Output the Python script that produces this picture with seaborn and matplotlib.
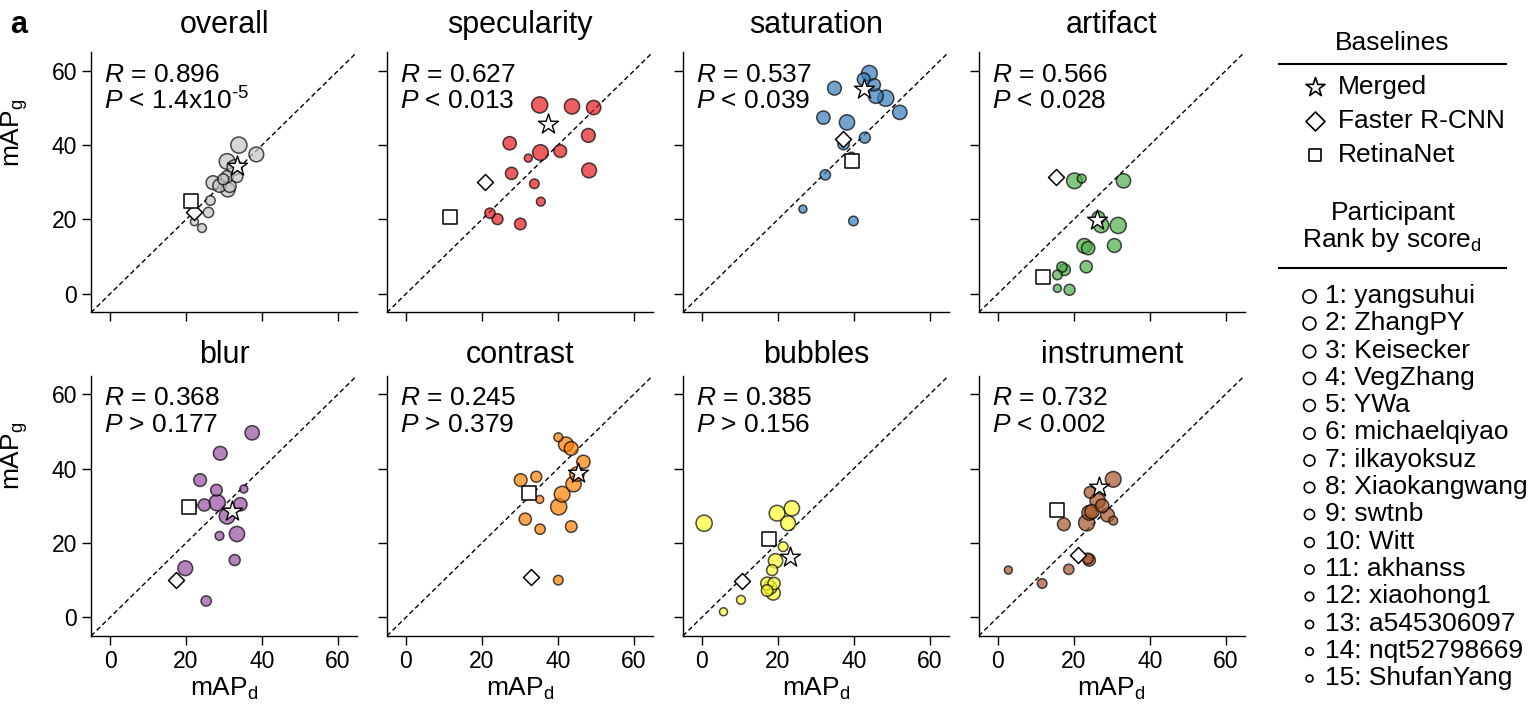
import numpy as np
import pandas as pd
import matplotlib.pyplot as plt
import seaborn as sns

# --- data ---
categories = ['overall', 'specularity', 'saturation', 'artifact',
              'blur', 'contrast', 'bubbles', 'instrument']
colors = ['#c4c4c4', '#e41a1c', '#377eb8', '#4daf4a',
          '#984ea3', '#ff7f00', '#ffff33', '#a65628']
r_values = ['0.896', '0.627', '0.537', '0.566', '0.368', '0.245', '0.385', '0.732']
p_values = ['< 1.4x10$^{\u20105}$', '< 0.013', '< 0.039', '< 0.028',
            '> 0.177', '> 0.379', '> 0.156', '< 0.002']

participants = ['yangsuhui', 'ZhangPY', 'Keisecker', 'VegZhang', 'YWa',
                'michaelqiyao', 'ilkayoksuz', 'Xiaokangwang', 'swtnb', 'Witt',
                'akhanss', 'xiaohong1', 'a545306097', 'nqt52798669', 'ShufanYang']

# participant points, listed by rank 1..15 (mAP_d, mAP_g)
overall_d = [33.9, 30.8, 32.8, 38.5, 31.0, 27.1, 28.8, 31.5, 30.8, 33.4, 29.8, 25.9, 26.4, 24.2, 22.2]
overall_g = [40.0, 35.6, 34.0, 37.5, 28.0, 29.9, 29.1, 29.0, 31.5, 31.5, 30.8, 21.9, 25.1, 17.7, 19.4]
specularity_d = [35.2, 35.4, 43.7, 48.2, 49.4, 48.0, 27.3, 40.6, 27.8, 30.1, 24.1, 22.1, 33.8, 35.5, 32.2]
specularity_g = [50.8, 38.0, 50.4, 33.2, 50.1, 42.6, 40.5, 38.4, 32.4, 18.8, 20.1, 21.7, 29.6, 24.8, 36.5]
saturation_d = [48.4, 44.1, 38.2, 45.8, 52.1, 34.9, 32.0, 42.6, 45.4, 37.3, 42.9, 32.5, 39.9, 39.4, 26.6]
saturation_g = [52.6, 59.3, 46.1, 53.2, 48.8, 55.3, 47.4, 57.7, 56.2, 40.3, 42.0, 32.0, 19.6, 36.9, 22.8]
artifact_d = [31.7, 20.2, 27.2, 22.8, 33.1, 30.7, 23.8, 26.5, 23.3, 17.6, 18.9, 16.9, 15.7, 22.1, 15.7]
artifact_g = [18.4, 30.4, 18.5, 12.9, 30.4, 13.0, 12.3, 20.5, 7.3, 6.5, 1.1, 7.2, 5.1, 31.0, 1.5]
blur_d = [28.2, 30.8, 33.4, 19.8, 37.4, 29.0, 34.3, 23.7, 24.8, 28.0, 32.8, 25.3, 21.6, 28.8, 35.2]
blur_g = [30.8, 27.2, 22.4, 13.2, 49.6, 44.1, 30.4, 36.9, 30.2, 34.2, 15.4, 4.4, 30.0, 21.9, 34.5]
contrast_d = [40.2, 41.1, 44.1, 42.1, 45.0, 43.5, 46.7, 30.2, 31.4, 43.5, 34.3, 35.3, 40.1, 40.1, 35.2]
contrast_g = [29.7, 33.1, 35.8, 46.5, 38.5, 45.4, 41.8, 36.9, 26.4, 24.4, 37.8, 23.7, 10.0, 48.4, 31.7]
bubbles_d = [0.6, 19.8, 23.7, 22.7, 19.4, 18.8, 18.0, 17.2, 19.0, 17.2, 18.5, 10.7, 21.4, 10.3, 5.7]
bubbles_g = [25.3, 28.0, 29.3, 25.3, 15.2, 6.5, 8.0, 9.1, 9.1, 7.2, 12.7, 9.8, 19.0, 4.7, 1.5]
instrument_d = [23.4, 30.4, 26.3, 24.1, 24.8, 28.9, 27.5, 17.4, 24.1, 24.3, 23.7, 18.7, 11.7, 30.4, 2.8]
instrument_g = [25.4, 37.1, 31.3, 28.1, 28.4, 27.5, 30.0, 25.0, 15.4, 33.6, 15.8, 12.9, 9.1, 26.0, 12.7]

# baselines, one value per category
merged_d = [33.4, 37.3, 42.6, 26.0, 32.1, 45.2, 23.1, 26.7]
merged_g = [34.4, 45.7, 55.0, 19.9, 28.7, 38.9, 16.1, 35.1]
faster_d = [22.2, 20.9, 37.1, 15.4, 17.4, 33.0, 10.7, 21.0]
faster_g = [21.9, 30.1, 41.6, 31.4, 10.0, 10.9, 9.8, 16.7]
retina_d = [21.4, 11.6, 39.4, 11.9, 20.7, 32.5, 17.6, 15.7]
retina_g = [25.0, 20.6, 35.8, 4.5, 29.7, 33.5, 21.0, 28.8]

part_d = [overall_d, specularity_d, saturation_d, artifact_d,
          blur_d, contrast_d, bubbles_d, instrument_d]
part_g = [overall_g, specularity_g, saturation_g, artifact_g,
          blur_g, contrast_g, bubbles_g, instrument_g]

rows = []
for cat, ds, gs in zip(categories, part_d, part_g):
    for rank, (d, g) in enumerate(zip(ds, gs), start=1):
        rows.append({'category': cat, 'rank': rank, 'mAP_d': d, 'mAP_g': g})
df = pd.DataFrame(rows)

# --- style ---
sns.set_style('ticks')
plt.rcParams['font.family'] = ['Liberation Sans', 'DejaVu Sans']
plt.rcParams['mathtext.fontset'] = 'custom'
plt.rcParams['mathtext.rm'] = 'Liberation Sans'
plt.rcParams['mathtext.it'] = 'Liberation Sans:italic'
plt.rcParams['mathtext.bf'] = 'Liberation Sans:bold'
plt.rcParams['mathtext.default'] = 'regular'
plt.rcParams['axes.linewidth'] = 1.0
plt.rcParams['axes.edgecolor'] = 'black'
plt.rcParams['text.color'] = 'black'
plt.rcParams['axes.labelcolor'] = 'black'
plt.rcParams['xtick.color'] = 'black'
plt.rcParams['ytick.color'] = 'black'

fig, axes = plt.subplots(2, 4, figsize=(15.38, 7.08), dpi=100, sharex=True, sharey=True)
fig.subplots_adjust(left=0.0592, right=0.8093, bottom=0.1018, top=0.9264,
                    wspace=0.1124, hspace=0.2422)

for i, (ax, cat) in enumerate(zip(axes.flat, categories)):
    sub = df[df['category'] == cat]
    ax.axline((0, 0), slope=1, color='black', lw=1.0, dashes=(3.5, 2.2), zorder=1)
    sns.scatterplot(data=sub, x='mAP_d', y='mAP_g', size='rank', sizes=(135, 33),
                    size_norm=(1, 15), color=colors[i], alpha=0.7,
                    edgecolor='black', linewidth=1.1, legend=False, ax=ax, zorder=3)
    ax.scatter(merged_d[i], merged_g[i], marker='*', s=228, facecolor='white',
               edgecolor='black', linewidth=1.0, zorder=5)
    ax.scatter(faster_d[i], faster_g[i], marker='D', s=66, facecolor='white',
               edgecolor='black', linewidth=1.1, zorder=5)
    ax.scatter(retina_d[i], retina_g[i], marker='s', s=88, facecolor='white',
               edgecolor='black', linewidth=1.1, zorder=5)

    ax.text(0.05, 0.913, r'$\it{R}$ = ' + r_values[i], transform=ax.transAxes,
            fontsize=19, va='center', ha='left')
    ax.text(0.05, 0.811, r'$\it{P}$ ' + p_values[i], transform=ax.transAxes,
            fontsize=19, va='center', ha='left')

    ax.set_title(cat, fontsize=22, pad=13.5 if i < 4 else 9)
    ax.set_xlim(-5, 65)
    ax.set_ylim(-5, 65)
    ax.set_xticks([0, 20, 40, 60])
    ax.set_yticks([0, 20, 40, 60])
    ax.tick_params(direction='out', length=6.5, width=1.0, labelsize=16.5,
                   color='black', labelcolor='black', pad=3.5)
    ax.set_xlabel(r'mAP$_{d}$' if i >= 4 else '', fontsize=19, labelpad=2)
    if i % 4 == 0:
        ax.set_ylabel(r'mAP$_{g}$', fontsize=19)
        ax.yaxis.set_label_coords(-0.228, 0.69)
    else:
        ax.set_ylabel('')
    sns.despine(ax=ax)

fig.text(0.0065, 1 - 33 / 708, 'a', fontsize=22, fontweight='bold', va='baseline')

# --- side legend, drawn in a figure-pixel axes ---
lax = fig.add_axes([0, 0, 1, 1], facecolor='none')
lax.set_xlim(0, 1538)
lax.set_ylim(708, 0)
lax.axis('off')

lax.text(1392, 43, 'Baselines', fontsize=19, ha='center', va='center')
lax.hlines([63.5, 268], 1278, 1507, color='black', lw=1.5)
base_labels = ['Merged', 'Faster R-CNN', 'RetinaNet']
base_markers = ['*', 'D', 's']
base_sizes = [207, 93, 80]
for k, (lab, mk, ms) in enumerate(zip(base_labels, base_markers, base_sizes)):
    yy = 86.7 + k * 34.2
    lax.scatter(1315, yy, marker=mk, s=ms, facecolor='white', edgecolor='black', linewidth=1.2)
    lax.text(1338, yy, lab, fontsize=19, ha='left', va='center')

lax.text(1393, 213, 'Participant', fontsize=19, ha='center', va='center')
lax.text(1392, 240, r'Rank by score$_{d}$', fontsize=19, ha='center', va='center')

leg_sizes = np.linspace(90, 25, len(participants))
for k, name in enumerate(participants):
    yy = 296 + k * 27.3
    lax.scatter(1309, yy, marker='o', s=leg_sizes[k], facecolor='white',
                edgecolor='black', linewidth=1.2)
    lax.text(1325, yy, f'{k + 1}: {name}', fontsize=19, ha='left', va='center')

fig.savefig('out.png', dpi=100)
